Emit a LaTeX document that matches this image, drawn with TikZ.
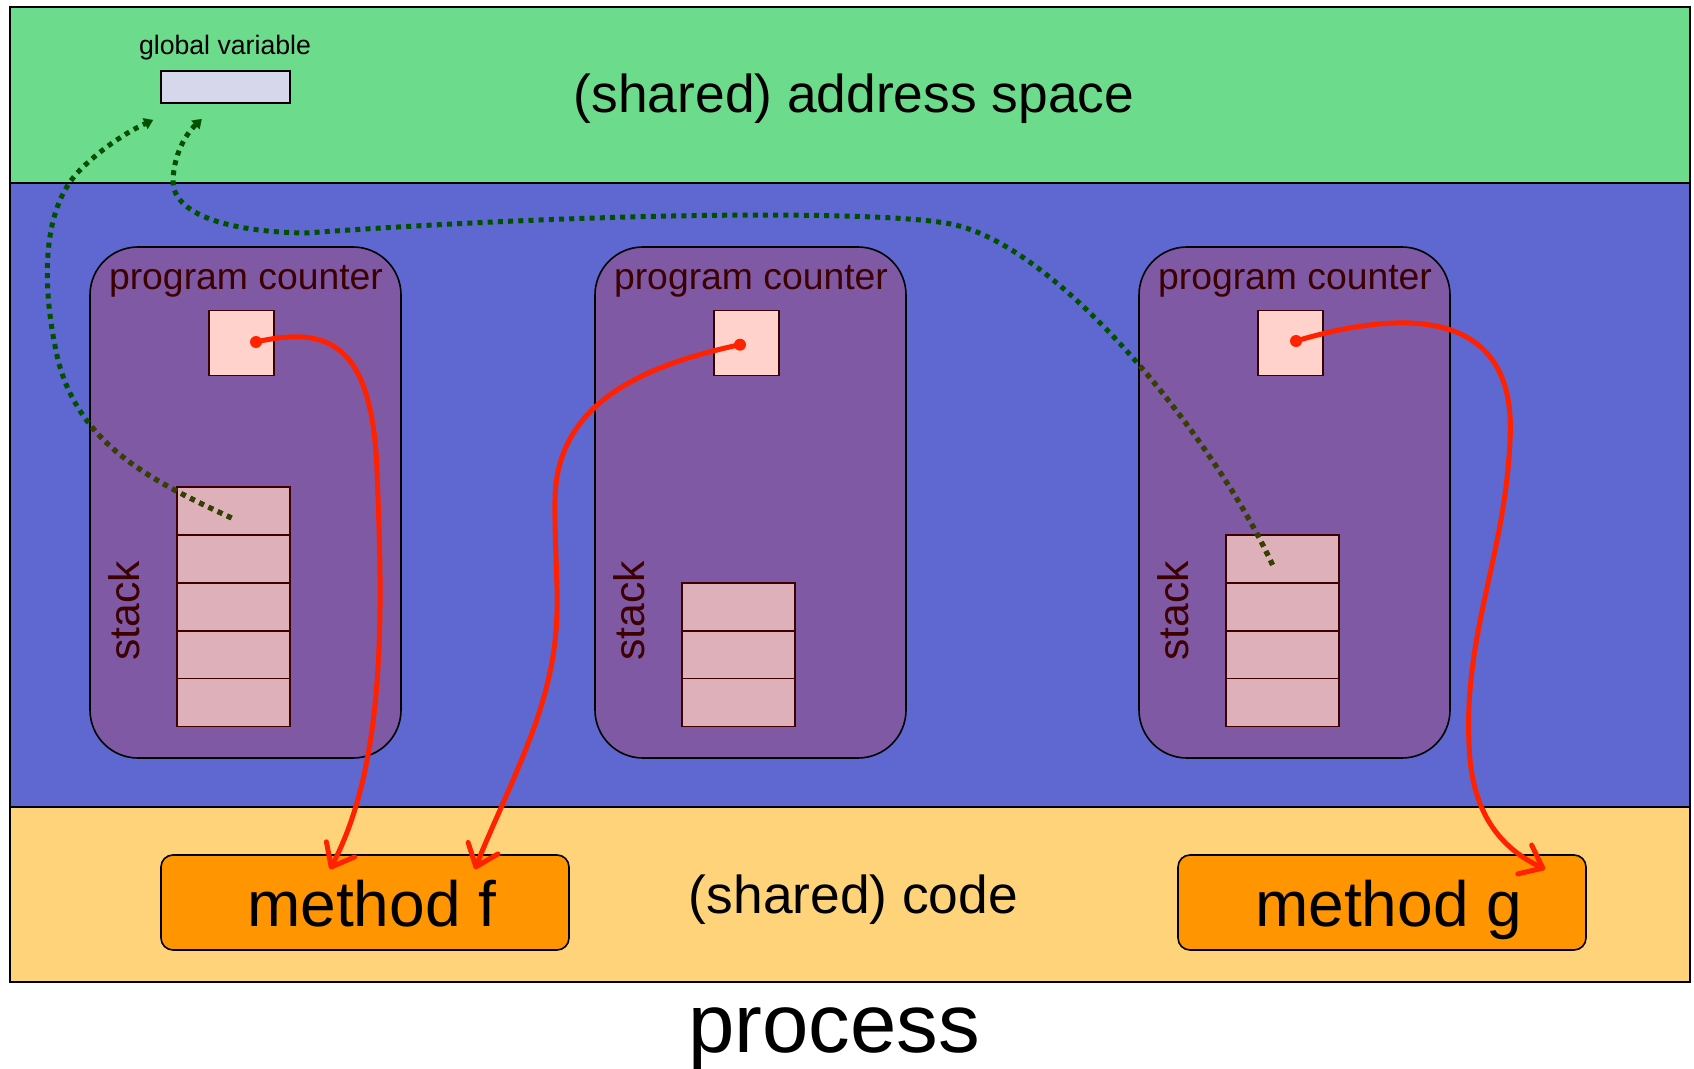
\documentclass[tikz,border=0pt]{standalone}
\usepackage{fontspec}
\setmainfont{Liberation Sans}
\usetikzlibrary{arrows.meta,calc}

\definecolor{spacegreen}{RGB}{108,219,139}
\definecolor{threadblue}{RGB}{95,103,208}
\definecolor{codeyellow}{RGB}{255,211,122}
\definecolor{threadpurple}{RGB}{128,89,165}
\definecolor{pcpink}{RGB}{255,211,203}
\definecolor{stackpink}{RGB}{222,176,185}
\definecolor{methodorange}{RGB}{255,149,0}
\definecolor{globalgrey}{RGB}{214,215,234}
\definecolor{darkmaroon}{RGB}{60,0,0}
\definecolor{pointerred}{RGB}{255,34,0}
\definecolor{refgreen}{RGB}{0,80,0}
\definecolor{refolive}{RGB}{58,62,0}

\begin{document}
\begin{tikzpicture}[x=0.75pt,y=0.75pt,yscale=-1,xscale=1,
  band/.style={draw=black,line width=1.5pt},
  gvbox/.style={draw=black,line width=1.2pt,fill=globalgrey,minimum width=96.75pt,minimum height=24pt,inner sep=0pt,outer sep=0pt},
  thread/.style={draw=black,line width=1.2pt,fill=threadpurple,rounded corners=36pt,minimum width=233.25pt,minimum height=383.25pt,inner sep=0pt,outer sep=0pt},
  pcbox/.style={draw=darkmaroon,line width=1.2pt,fill=pcpink,minimum size=48.75pt,inner sep=0pt,outer sep=0pt},
  cell/.style={draw=darkmaroon,line width=1.2pt,fill=stackpink,minimum width=84.75pt,minimum height=35.9pt,inner sep=0pt,outer sep=0pt},
  pclabel/.style={anchor=base,text=darkmaroon,font=\fontsize{28}{32}\selectfont},
  stacklabel/.style={anchor=base,rotate=90,text=darkmaroon,font=\fontsize{32}{36}\selectfont},
  method/.style={draw=black,line width=1.2pt,fill=methodorange,rounded corners=9pt,minimum width=306pt,minimum height=71.25pt,inner sep=0pt,font=\fontsize{48}{52}\selectfont,text height=40pt,text depth=4.75pt,execute at begin node={\hskip10pt}},
  ptr/.style={draw=pointerred,line width=3.75pt,-{Straight Barb[length=15pt,width=24pt,round]}},
  ref/.style={draw=refgreen,line width=3.75pt,dash pattern=on 3.75pt off 3.9pt},
]
\useasboundingbox (0,0) rectangle (1694,1069);

%Shape: Rectangle (address space band)
\draw[band,fill=spacegreen] (9.6,6.7) rectangle (1689.7,182.7);
%Shape: Rectangle (thread band)
\draw[band,fill=threadblue] (9.6,182.7) rectangle (1689.7,806.7);
%Shape: Rectangle (code band)
\draw[band,fill=codeyellow] (9.6,806.7) rectangle (1689.7,982.3);

%Shape: Rectangle
\node[gvbox] (gvar) at (225.5,87) {};
% Text Node
\node[anchor=base,font=\fontsize{20}{24}\selectfont] (gvlabel) at (225,55) {global variable};
% Text Node
\node[anchor=base,font=\fontsize{40}{48}\selectfont] (spacelabel) at (854,113) {(shared) address space};

%Shape: Rounded Rectangle, one per thread
\foreach \i/\L/\n in {1/90/5,2/595/3,3/1139/4}{
  \node[thread] (thread\i) at ({\L+155.5},502.5) {};
  \node[pclabel] (pclabel\i) at ({\L+156},290) {program counter};
  \node[pcbox] (pc\i) at ({\L+151.5},343) {};
  \node[stacklabel] (stacklabel\i) at ({\L+49},611) {stack};
  \foreach \k in {1,...,\n}
    \node[cell] (cell\i-\k) at ({\L+143.5},{726.5-(\k-0.5)*47.9}) {};
}

%Shape: Rounded Rectangle
\node[method] (mf) at (365,902.5) {method f};
\node[method] (mg) at (1382,902.5) {method g};
% Text Node
\node[anchor=base,font=\fontsize{40}{48}\selectfont] (codelabel) at (853.5,913) {(shared) code};

\coordinate (startA) at ($(cell1-5)+(-2,7)$);
\coordinate (startB) at ($(cell3-4)+(-10,6)$);
\coordinate (tipA) at ($(gvar.south west)+(-8,17)$);
\coordinate (tipB) at ($(gvar.south west)+(40.7,16)$);

%Curve Lines (references to the global variable)
\draw[ref,-{Triangle[length=6.5pt,width=9pt,line width=0.1pt]}] (startA) .. controls (150,480) and (80,445) .. (58,360) .. controls (42,290) and (40,210) .. (80,170) .. controls (100,150) and (125,133) .. (tipA);
\draw[ref,-{Triangle[length=6.5pt,width=9pt,line width=0.1pt]}] (startB) .. controls (1215,440) and (1060,246) .. (951,224) .. controls (880,210) and (600,212) .. (306,233) .. controls (230,232) and (172,215) .. (173,180) .. controls (174,155) and (185,135) .. (tipB);
\begin{scope}
  \clip[rounded corners=36pt] (thread1.north west) rectangle (thread1.south east);
  \draw[ref,draw=refolive] (startA) .. controls (150,480) and (80,445) .. (58,360) .. controls (42,290) and (40,210) .. (80,170);
\end{scope}
\begin{scope}
  \clip[rounded corners=36pt] (thread3.north west) rectangle (thread3.south east);
  \draw[ref,draw=refolive] (startB) .. controls (1215,440) and (1060,246) .. (951,224);
\end{scope}

\coordinate (dot1) at ($(pc1)+(14.5,-1)$);
\coordinate (dot2) at ($(pc2)+(-6.5,1.7)$);
\coordinate (dot3) at ($(pc3)+(5.5,-2)$);
\coordinate (tip1) at ($(mf.north)+(-35,15)$);
\coordinate (tip2) at ($(mf.north)+(110,15)$);
\coordinate (tip3) at ($(mg.north)+(163,15)$);

%Curve Lines (program counters)
\fill[pointerred] (dot1) circle (6) (dot2) circle (6) (dot3) circle (6);
\draw[ptr] (dot1) .. controls (330,325) and (372,345) .. (377,470) .. controls (382,600) and (388,760) .. (tip1);
\draw[ptr] (dot2) .. controls (630,368) and (556,410) .. (555,500) .. controls (554,590) and (568,630) .. (535,725) .. controls (515,780) and (490,830) .. (tip2);
\draw[ptr] (dot3) .. controls (1400,310) and (1518,305) .. (1510,440) .. controls (1505,560) and (1460,640) .. (1470,760) .. controls (1476,820) and (1505,850) .. (tip3);

% Text Node
\node[anchor=base,font=\fontsize{62.5}{70}\selectfont] (processlabel) at (834,1052) {process};

\end{tikzpicture}
\end{document}
